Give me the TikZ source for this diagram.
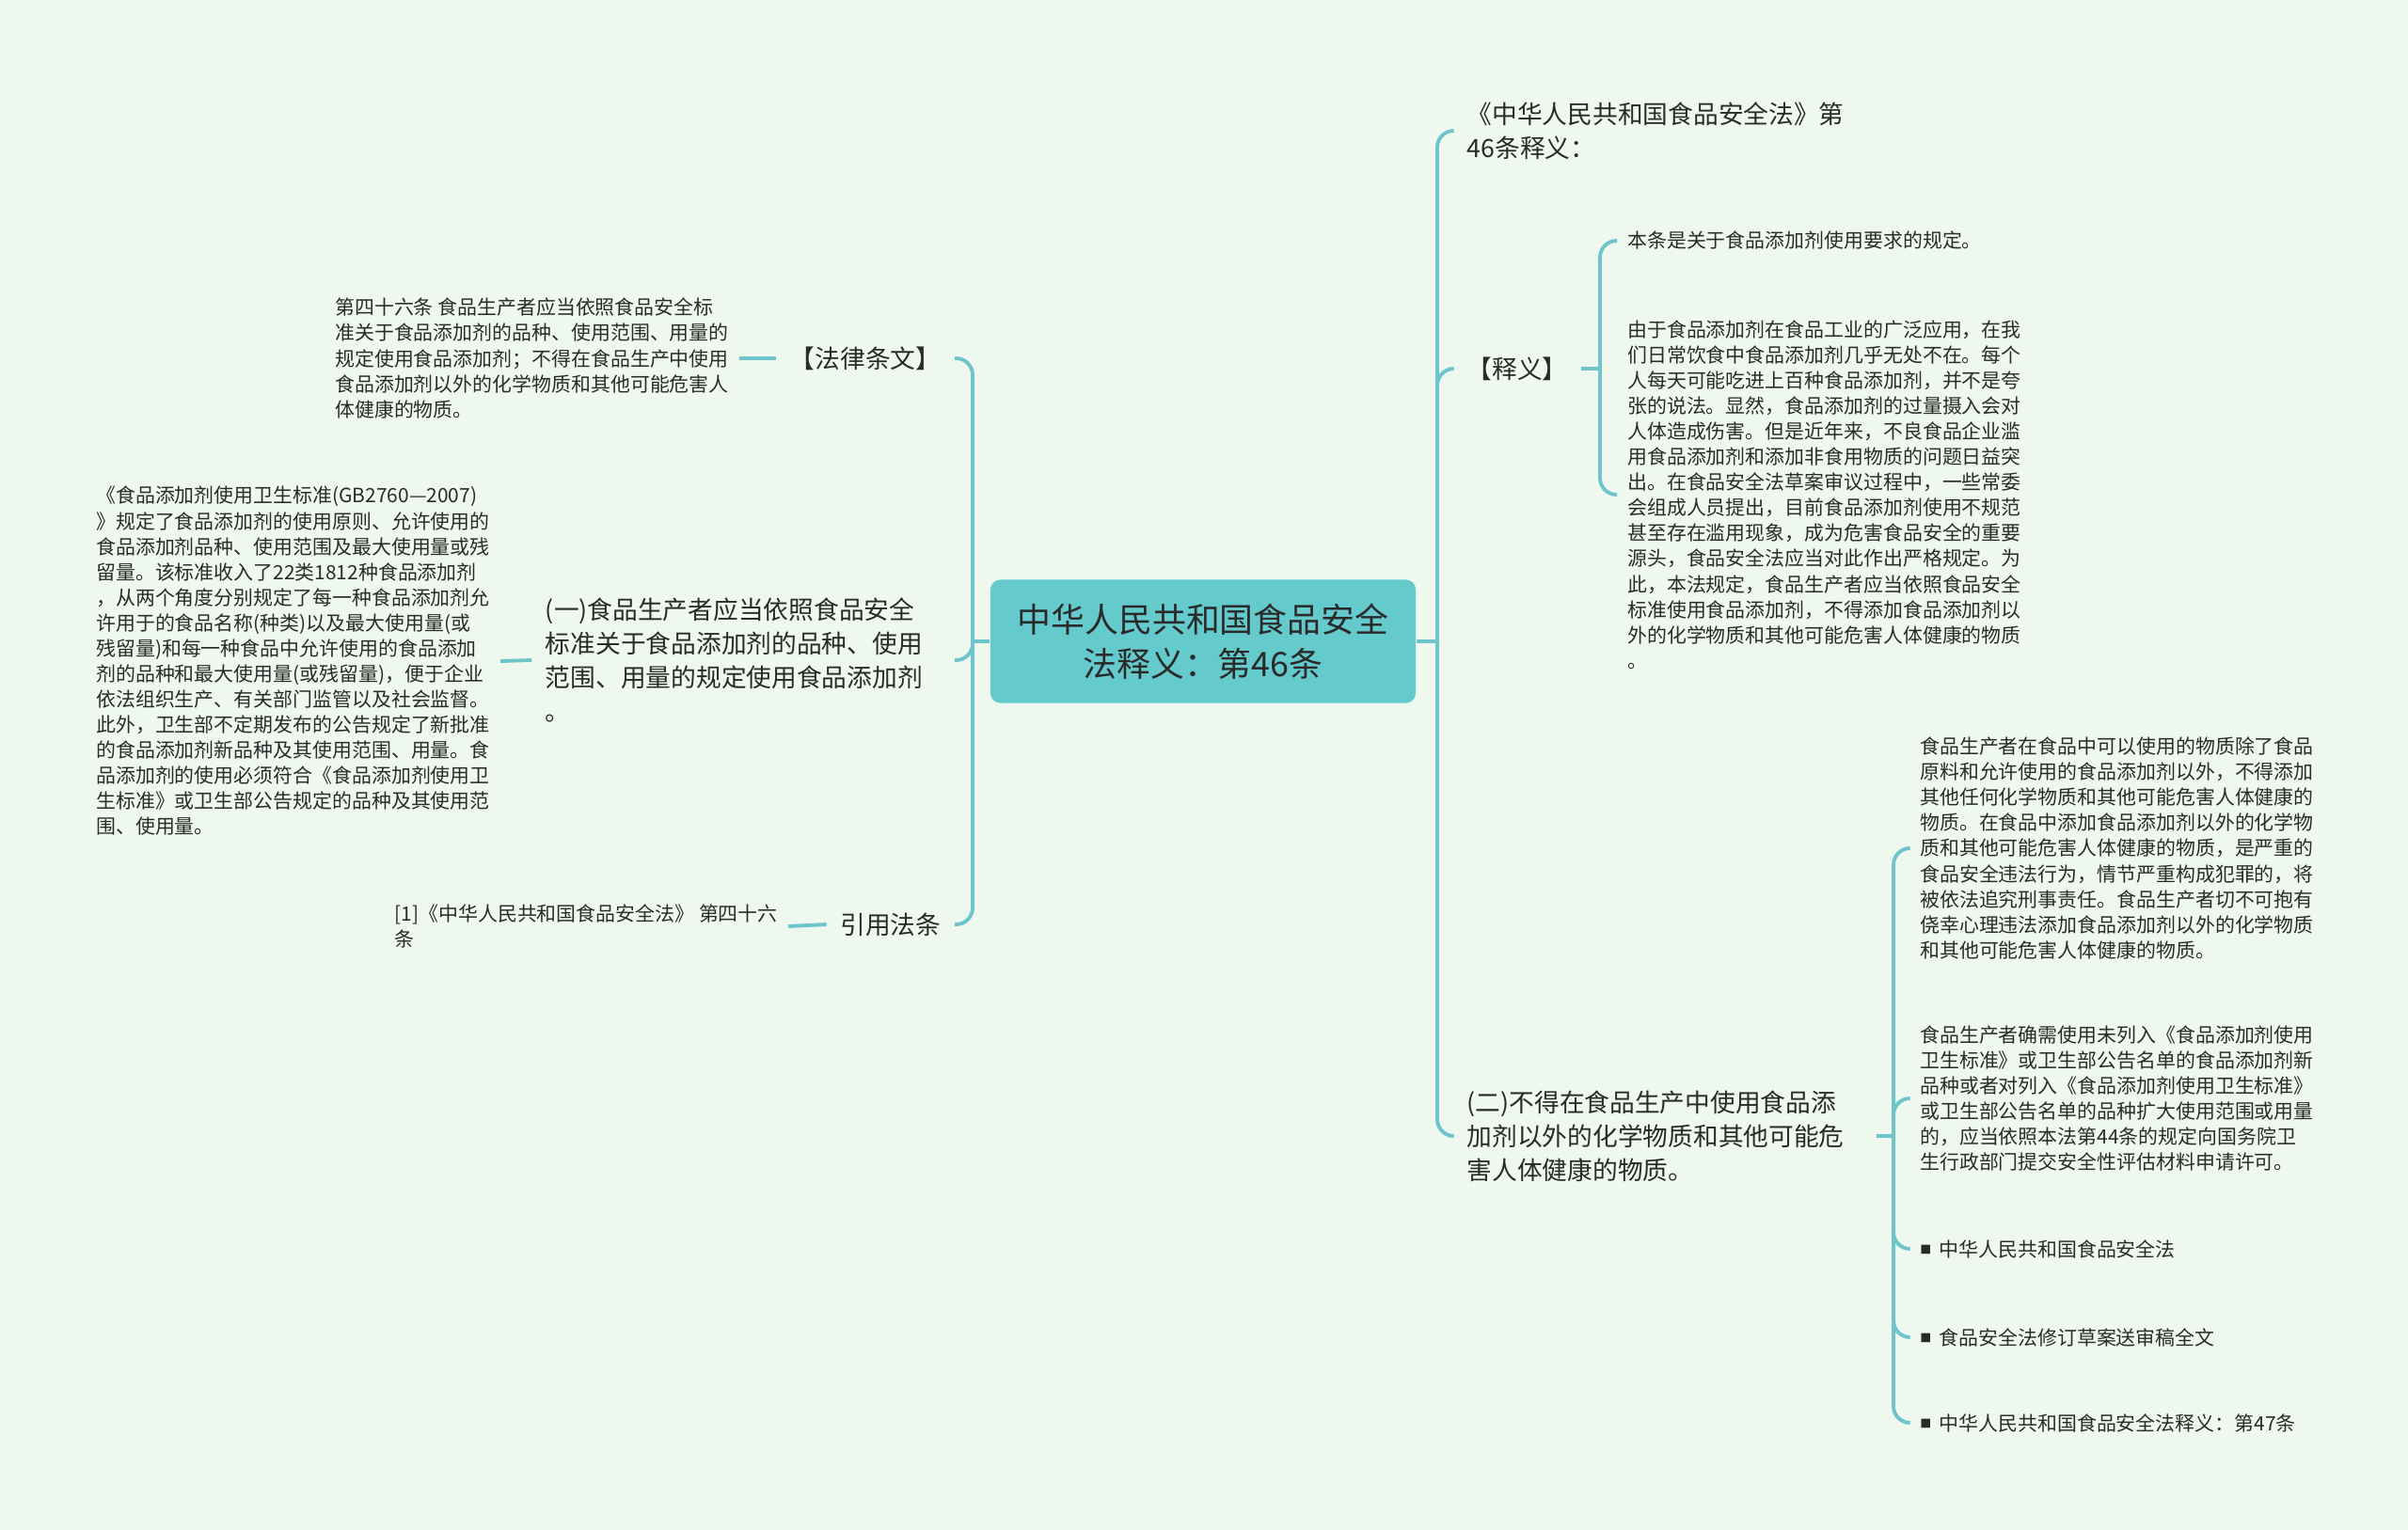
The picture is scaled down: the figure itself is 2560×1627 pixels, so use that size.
\documentclass[tikz,border=0pt]{standalone}
\usepackage{fontspec}
\setmainfont{Noto Sans CJK SC}
\usepackage{tikz}
\usetikzlibrary{positioning}
\definecolor{bgcol}{HTML}{EFF8EF}
\definecolor{linecol}{HTML}{6EC4CB}
\definecolor{rootcol}{HTML}{64CACC}
\definecolor{inkcol}{HTML}{2A2A2A}
\tikzstyle{link}=[draw=linecol,line width=1.1pt,rounded corners=5pt]
\tikzstyle{root}=[fill=rootcol,rounded corners=3pt,minimum width=4.52cm,minimum height=1.31cm,align=center,text=inkcol,font=\fontsize{10.2}{13.4}\selectfont]
\tikzstyle{topic}=[inner xsep=4pt,inner ysep=2pt,align=left,text=inkcol,font=\fontsize{7.6}{10.3}\selectfont]
\tikzstyle{leaf}=[inner xsep=3pt,inner ysep=2pt,align=left,text=inkcol,font=\fontsize{5.95}{7.7}\selectfont]
\newcommand{\bulsq}{\raisebox{0.7pt}{\fontsize{3.4}{4}\selectfont ■}\hspace{2.4pt}}

\begin{document}
\begin{tikzpicture}[x=0.01cm,y=-0.01cm]
\fill[bgcol] (0,0) rectangle (2560,1627);
\node [root] (r) at (1279,682) {中华人民共和国食品安全\\法释义：第46条};
\coordinate (hl) at (1034,682);
\coordinate (hr) at (1528,682);

% left side
\node [topic,anchor=east] (law) at (1015,381) {【法律条文】};
\node [leaf,anchor=east] (lawtxt) at (786,381) {第四十六条 食品生产者应当依照食品安全标\\准关于食品添加剂的品种、使用范围、用量的\\规定使用食品添加剂；不得在食品生产中使用\\食品添加剂以外的化学物质和其他可能危害人\\体健康的物质。};
\node [topic,anchor=east,text width=4.2cm] (one) at (1015,702) {(一)食品生产者应当依照食品安全\\标准关于食品添加剂的品种、使用\\范围、用量的规定使用食品添加剂\\。};
\node [leaf,anchor=east] (std) at (532,703) {《食品添加剂使用卫生标准(GB2760—2007)\\》规定了食品添加剂的使用原则、允许使用的\\食品添加剂品种、使用范围及最大使用量或残\\留量。该标准收入了22类1812种食品添加剂\\，从两个角度分别规定了每一种食品添加剂允\\许用于的食品名称(种类)以及最大使用量(或\\残留量)和每一种食品中允许使用的食品添加\\剂的品种和最大使用量(或残留量)，便于企业\\依法组织生产、有关部门监管以及社会监督。\\此外，卫生部不定期发布的公告规定了新批准\\的食品添加剂新品种及其使用范围、用量。食\\品添加剂的使用必须符合《食品添加剂使用卫\\生标准》或卫生部公告规定的品种及其使用范\\围、使用量。};
\node [topic,anchor=east] (cite) at (1015,983) {引用法条};
\node [leaf,anchor=east] (citetxt) at (838,985) {[1]《中华人民共和国食品安全法》 第四十六\\条};

% right side
\node [topic,anchor=west] (title) at (1545,139) {《中华人民共和国食品安全法》第\\46条释义：};
\node [topic,anchor=west] (expl) at (1545,392) {【释义】};
\coordinate (he) at (1701,392);
\node [leaf,anchor=west] (e1) at (1719,256) {本条是关于食品添加剂使用要求的规定。};
\node [leaf,anchor=west] (e2) at (1719,526) {由于食品添加剂在食品工业的广泛应用，在我\\们日常饮食中食品添加剂几乎无处不在。每个\\人每天可能吃进上百种食品添加剂，并不是夸\\张的说法。显然，食品添加剂的过量摄入会对\\人体造成伤害。但是近年来，不良食品企业滥\\用食品添加剂和添加非食用物质的问题日益突\\出。在食品安全法草案审议过程中，一些常委\\会组成人员提出，目前食品添加剂使用不规范\\甚至存在滥用现象，成为危害食品安全的重要\\源头，食品安全法应当对此作出严格规定。为\\此，本法规定，食品生产者应当依照食品安全\\标准使用食品添加剂，不得添加食品添加剂以\\外的化学物质和其他可能危害人体健康的物质\\。};
\node [topic,anchor=west,text width=4.2cm] (two) at (1545,1208) {(二)不得在食品生产中使用食品添\\加剂以外的化学物质和其他可能危\\害人体健康的物质。};
\coordinate (ht) at (2013,1208);
\node [leaf,anchor=west] (f1) at (2030,902) {食品生产者在食品中可以使用的物质除了食品\\原料和允许使用的食品添加剂以外，不得添加\\其他任何化学物质和其他可能危害人体健康的\\物质。在食品中添加食品添加剂以外的化学物\\质和其他可能危害人体健康的物质，是严重的\\食品安全违法行为，情节严重构成犯罪的，将\\被依法追究刑事责任。食品生产者切不可抱有\\侥幸心理违法添加食品添加剂以外的化学物质\\和其他可能危害人体健康的物质。};
\node [leaf,anchor=west] (f2) at (2030,1168) {食品生产者确需使用未列入《食品添加剂使用\\卫生标准》或卫生部公告名单的食品添加剂新\\品种或者对列入《食品添加剂使用卫生标准》\\或卫生部公告名单的品种扩大使用范围或用量\\的，应当依照本法第44条的规定向国务院卫\\生行政部门提交安全性评估材料申请许可。};
\node [leaf,anchor=west] (f3) at (2030,1328) {\bulsq 中华人民共和国食品安全法};
\node [leaf,anchor=west] (f4) at (2030,1422) {\bulsq 食品安全法修订草案送审稿全文};
\node [leaf,anchor=west] (f5) at (2030,1513) {\bulsq 中华人民共和国食品安全法释义：第47条};

% connectors
\draw [link] (r.west) -- (hl);
\draw [link] (hl) |- (law.east);
\draw [link] (hl) |- (one.east);
\draw [link] (hl) |- (cite.east);
\draw [link] (law.west) -- (lawtxt.east);
\draw [link] (one.west) -- (std.east);
\draw [link] (cite.west) -- (citetxt.east);
\draw [link] (r.east) -- (hr);
\draw [link] (hr) |- (title.west);
\draw [link] (hr) |- (expl.west);
\draw [link] (hr) |- (two.west);
\draw [link] (expl.east) -- (he);
\draw [link] (he) |- (e1.west);
\draw [link] (he) |- (e2.west);
\draw [link] (two.east) -- (ht);
\foreach \n in {f1,f2,f3,f4,f5}
  \draw [link] (ht) |- (\n.west);
\end{tikzpicture}
\end{document}
